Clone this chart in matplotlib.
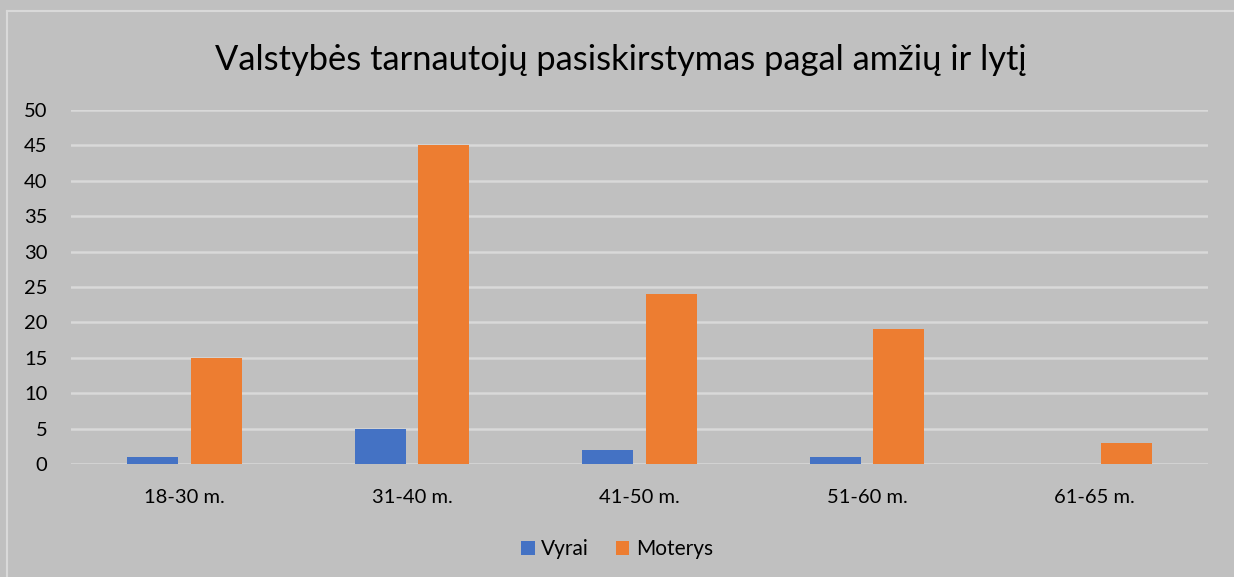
import numpy as np
import matplotlib.pyplot as plt
from matplotlib.lines import Line2D

categories = ['18-30 m.', '31-40 m.', '41-50 m.', '51-60 m.', '61-65 m.']
vyrai = [1, 5, 2, 1, 0]
moterys = [15, 45, 24, 19, 3]
series_names = ['Vyrai', 'Moterys']

bg = '#c0c0c0'
grid_c = '#d9d9d9'
c_blue = '#4472c4'
c_orange = '#ed7d31'

plt.rcParams['font.family'] = ['Lato', 'DejaVu Sans']

def main(savepath='out.png'):

    fig = plt.figure(figsize=(12.34, 5.77), dpi=100, facecolor=bg)
    ax = fig.add_axes([71/1234, 1-464/577, (1208-71)/1234, (464-110)/577])
    ax.set_facecolor(bg)

    # chart frame: only top and left edges fall inside the picture
    fx, fy = 7/1234, 1-11/577
    fig.add_artist(Line2D([fx, 1.0], [fy, fy], transform=fig.transFigure, color=grid_c, linewidth=1.5))
    fig.add_artist(Line2D([fx, fx], [0.0, fy], transform=fig.transFigure, color=grid_c, linewidth=1.5))

    x = np.arange(len(categories))
    width = 0.224
    off = 0.14
    ax.bar(x-off, vyrai, width, color=c_blue, label=series_names[0], zorder=3)
    ax.bar(x+off, moterys, width, color=c_orange, label=series_names[1], zorder=3)

    ax.set_xlim(-0.5, len(categories)-0.5)
    ax.set_ylim(0, 50)
    ax.set_yticks(np.arange(0, 51, 5))
    ax.yaxis.grid(True, color=grid_c, linewidth=1.8, zorder=0)
    ax.set_axisbelow(True)
    for s in ax.spines.values():
        s.set_visible(False)
    ax.tick_params(length=0, labelsize=14.5, colors='black')
    ax.tick_params(axis='y', pad=17)
    ax.tick_params(axis='x', pad=18)
    ax.set_xticks(x)
    ax.set_xticklabels(categories)

    fig.text(0.503, 1-60/577, 'Valstybės tarnautojų pasiskirstymas pagal amžių ir lytį',
             ha='center', va='center', fontsize=24.8, color='black')

    fig.legend(loc='center', bbox_to_anchor=(0.5, 1-549/577), ncol=2, frameon=False,
               fontsize=15, handlelength=0.65, handleheight=0.65, handletextpad=0.3,
               columnspacing=1.3)

    fig.savefig(savepath, dpi=100, facecolor=bg)
    plt.close(fig)

if __name__ == '__main__':

    main(savepath='out.png')
